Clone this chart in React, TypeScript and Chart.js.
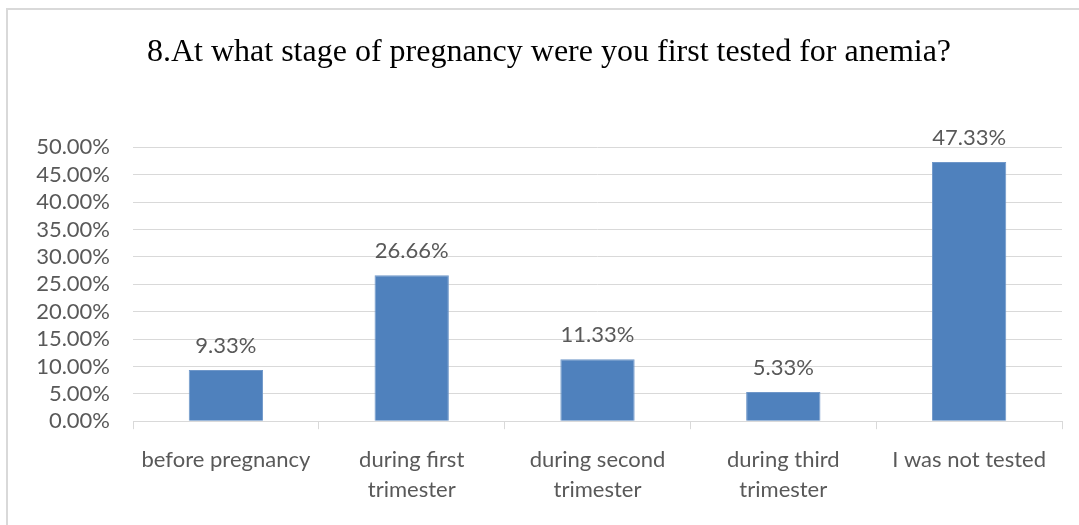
import React, { useEffect, useRef } from "react";
import { Chart, registerables } from "chart.js";

Chart.register(...registerables);

const TITLE = "8.At what stage of pregnancy were you first tested for anemia?";
const categories: string[][] = [
  ["before pregnancy"],
  ["during first", "trimester"],
  ["during second", "trimester"],
  ["during third", "trimester"],
  ["I was not tested"],
];
const values: number[] = [0.0933, 0.2666, 0.1133, 0.0533, 0.4733];
const valueLabels: string[] = ["9.33%", "26.66%", "11.33%", "5.33%", "47.33%"];
const yMin = 0;
const yMax = 0.5;
const yStep = 0.05;

const LABEL_FONT = "Lato, 'Noto Sans', sans-serif";
const TEXT_COLOR = "#595959";
const GRID_COLOR = "#d9d9d9";
const BAR_COLOR = "#4f81bd";

const framePlugin = {
  id: "frame",
  beforeDraw(chart: any) {
    const ctx = chart.ctx;
    ctx.save();
    ctx.fillStyle = "#ffffff";
    ctx.fillRect(0, 0, chart.width, chart.height);
    ctx.strokeStyle = GRID_COLOR;
    ctx.lineWidth = 2;
    ctx.beginPath();
    ctx.moveTo(7, chart.height);
    ctx.lineTo(7, 9);
    ctx.lineTo(chart.width, 9);
    ctx.stroke();
    ctx.restore();
  },
};

const valueLabelPlugin = {
  id: "valueLabels",
  afterDatasetsDraw(chart: any) {
    const ctx = chart.ctx;
    const meta = chart.getDatasetMeta(0);
    ctx.save();
    ctx.font = `22px ${LABEL_FONT}`;
    ctx.fillStyle = TEXT_COLOR;
    ctx.textAlign = "center";
    ctx.textBaseline = "middle";
    meta.data.forEach((bar: any, i: number) => {
      ctx.fillText(valueLabels[i], bar.x, bar.y - 24);
    });
    ctx.restore();
  },
};

export default function App() {
  const ref = useRef<HTMLCanvasElement | null>(null);
  useEffect(() => {
    if (!ref.current) return;
    const chart = new Chart(ref.current, {
      type: "bar",
      data: {
        labels: categories,
        datasets: [
          {
            data: values,
            backgroundColor: BAR_COLOR,
            borderColor: "#6f97c9",
            borderWidth: 1,
            categoryPercentage: 1,
            barPercentage: 0.4,
          },
        ],
      },
      options: {
        animation: false,
        responsive: false,
        maintainAspectRatio: false,
        layout: { padding: { left: 36, right: 17, top: 0, bottom: 4 } },
        plugins: {
          legend: { display: false },
          tooltip: { enabled: false },
          title: {
            display: true,
            text: TITLE,
            color: "#000000",
            font: { family: "'Liberation Serif', serif", size: 32, weight: "normal", lineHeight: 1.2 },
            padding: { top: 33, bottom: 76 },
          },
        },
        scales: {
          x: {
            offset: true,
            grid: {
              offset: true,
              drawOnChartArea: false,
              drawTicks: true,
              tickLength: 8,
              color: GRID_COLOR,
            },
            border: { color: GRID_COLOR },
            ticks: {
              color: TEXT_COLOR,
              font: { family: LABEL_FONT, size: 22, lineHeight: 1.36 },
              padding: 16,
              maxRotation: 0,
              autoSkip: false,
            },
          },
          y: {
            min: yMin,
            max: yMax,
            afterFit(scale: any) {
              scale.width = 97;
            },
            grid: { color: GRID_COLOR, drawTicks: false },
            border: { display: false },
            ticks: {
              stepSize: yStep,
              autoSkip: false,
              color: TEXT_COLOR,
              font: { family: LABEL_FONT, size: 22, lineHeight: 1 },
              padding: 23,
              callback: (v: any) => (Number(v) * 100).toFixed(2) + "%",
            },
          },
        },
      },
      plugins: [framePlugin, valueLabelPlugin],
    });
    return () => chart.destroy();
  }, []);
  return (
    <div style={{ position: "absolute", left: 0, top: 0, width: 1079, height: 525 }}>
      <canvas ref={ref} width={1079} height={525} style={{ display: "block" }} />
    </div>
  );
}
